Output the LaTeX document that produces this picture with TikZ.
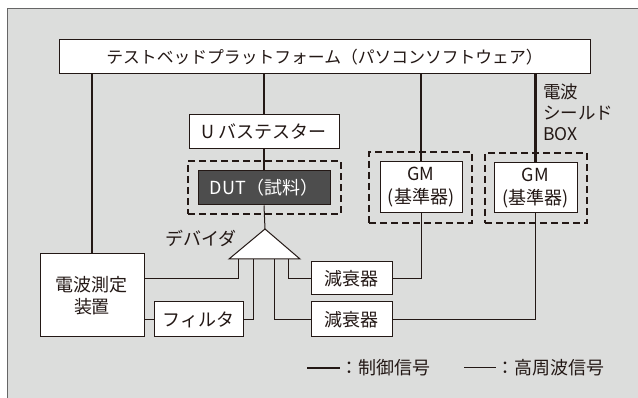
\documentclass[tikz,border=0pt]{standalone}
\usepackage{fontspec}
\setmainfont{Noto Sans CJK JP}
\definecolor{ink}{HTML}{231815}
\definecolor{bg}{HTML}{DCDDDC}
\definecolor{dutfill}{HTML}{4D4D4D}
\definecolor{framec}{HTML}{666666}
\tikzset{
  box/.style={draw=ink, fill=white, line width=1pt, inner sep=0pt, align=center, text=ink},
  shield/.style={draw=ink, line width=2.6pt, dash pattern=on 7pt off 4pt, inner sep=0pt},
  ctrl/.style={draw=ink, line width=2.4pt},
  rf/.style={draw=ink, line width=1pt},
  lbl/.style={inner sep=0pt, text=ink},
}
\begin{document}
\begin{tikzpicture}[x=1pt, y=-1pt, font=\fontsize{18}{22}\selectfont]
\useasboundingbox (0,0) rectangle (638,398);
\fill[white] (0,0) rectangle (638,398);
\filldraw[fill=bg, draw=framec, line width=1pt] (7,9) rectangle (650,410);

% nodes
\node[box, minimum width=531pt, minimum height=34pt, font=\fontsize{16.8}{20}\selectfont] (top) at (324.5,57) {テストベッドプラットフォーム（パソコンソフトウェア）};
\node[box, minimum width=150pt, minimum height=34pt] (usb) at (264,132) {U バステスター};
\node[shield, minimum width=153pt, minimum height=53pt] (dutd) at (264.5,187.5) {};
\node[box, fill=dutfill, text=white, minimum width=132pt, minimum height=34pt] (dut) at (264,188) {DUT（試料）};
\node[shield, minimum width=103pt, minimum height=71pt] (gm1d) at (420.5,187.5) {};
\node[box, minimum width=82pt, minimum height=51pt, font=\fontsize{18}{23}\selectfont] (gm1) at (421,187.5) {GM\\(基準器)};
\node[shield, minimum width=102pt, minimum height=70pt] (gm2d) at (536,188) {};
\node[box, minimum width=83pt, minimum height=50pt, font=\fontsize{18}{23}\selectfont] (gm2) at (535.5,188) {GM\\(基準器)};
\node[box, minimum width=104pt, minimum height=83pt] (meas) at (92,295.5) {電波測定\\装置};
\node[box, minimum width=89pt, minimum height=35pt] (filt) at (198.5,319.5) {フィルタ};
\node[box, minimum width=81pt, minimum height=33pt] (att1) at (351.5,278.5) {減衰器};
\node[box, minimum width=81pt, minimum height=35pt] (att2) at (351.5,319.5) {減衰器};

% divider triangle
\coordinate (tri) at (265,229);
\coordinate (tril) at (229,259);
\coordinate (trir) at (300,259);
\coordinate (d1) at (238,259);
\coordinate (d2) at (253,259);
\coordinate (d3) at (274,259);
\coordinate (d4) at (288,259);

% control lines
\draw[ctrl] (meas.north |- top.south) -- (meas.north);
\draw[ctrl] (usb.north |- top.south) -- (usb.north);
\draw[ctrl] (usb.south) -- (dut.north);
\draw[ctrl] (gm1.north |- top.south) -- (gm1.north);
\draw[ctrl] (gm2.north |- top.south) -- (gm2.north);

% rf lines
\draw[rf] (dut.south) -- (tri);
\draw[rf] (d1) |- (meas.east |- att1.west);
\draw[rf] (d2) |- (filt.east);
\draw[rf] (meas.east |- filt.west) -- (filt.west);
\draw[rf] (d3) |- (att2.west);
\draw[rf] (d4) |- (att1.west);
\draw[rf] (att1.east) -| (gm1.south);
\draw[rf] (att2.east) -| (gm2.south);
\filldraw[fill=white, draw=ink, line width=1pt, line join=miter] (tri) -- (trir) -- (tril) -- cycle;

% labels
\node[lbl, anchor=east] (divlbl) at (237,238) {デバイダ};
\node[lbl, anchor=north west, align=left, font=\fontsize{17.5}{21}\selectfont] (boxlbl) at (543,84) {電波\\シールド\\BOX};

% legend
\coordinate (lg1a) at (307,368);
\coordinate (lg1b) at (340,368);
\coordinate (lg2a) at (464,368);
\coordinate (lg2b) at (496,368);
\draw[ctrl, line width=2.8pt] (lg1a) -- (lg1b);
\node[lbl, anchor=west] (lgt1) at (lg1b) {：制御信号};
\draw[rf] (lg2a) -- (lg2b);
\node[lbl, anchor=west] (lgt2) at (lg2b) {：高周波信号};
\end{tikzpicture}
\end{document}
